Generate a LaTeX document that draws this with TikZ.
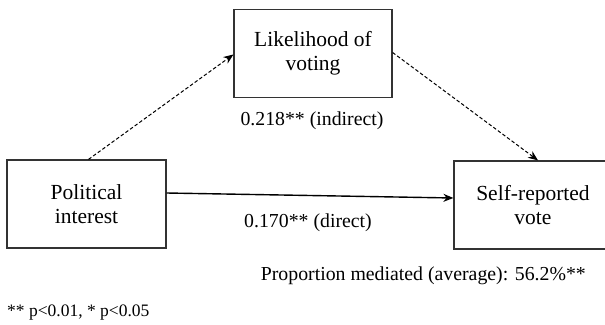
\documentclass[tikz,border=0pt]{standalone}
\usepackage{fontspec}
\setmainfont{Liberation Serif}
\usetikzlibrary{arrows.meta}
\begin{document}
\begin{tikzpicture}[x=1pt,y=-1pt,
  varbox/.style={draw=black!80, line width=1.2pt, rectangle, inner sep=0pt,
    minimum width=158pt, minimum height=88pt, align=center,
    font=\fontsize{21.5}{24}\selectfont},
  lbl/.style={inner sep=0pt, font=\fontsize{19.8}{22}\selectfont},
  dashedarrow/.style={line width=1pt, dash pattern=on 3.5pt off 2.2pt, -{Stealth[length=10pt,width=8pt]}},
  solidarrow/.style={line width=1.4pt, -{Stealth[length=10pt,width=8pt]}}]
\useasboundingbox (0,0) rectangle (605,324);
\clip (0,0) rectangle (605,324);
\node[varbox, minimum width=159pt] (pol) at (86.5,204) {Political\\interest};
\node[varbox] (lik) at (313,53.5) {Likelihood of\\voting};
\node[varbox] (self) at (533,205) {Self-reported\\vote};
\draw[dashedarrow] ([xshift=2pt]pol.north) -- ([yshift=-1pt]lik.west);
\draw[dashedarrow] ([yshift=1pt]lik.east) -- ([xshift=5pt]self.north);
\draw[solidarrow] ([yshift=11pt]pol.east) -- ([yshift=7pt]self.west);
\node[lbl] (ind) at (312,121) {0.218** (indirect)};
\node[lbl] (dir) at (308,223) {0.170** (direct)};
\node[lbl, anchor=east] (prop) at (586,276) {Proportion mediated (average): 56.2\%**};
\node[lbl, anchor=west, font=\fontsize{17.5}{20}\selectfont] (foot) at (7,313) {** p<0.01, * p<0.05};
\end{tikzpicture}
\end{document}
